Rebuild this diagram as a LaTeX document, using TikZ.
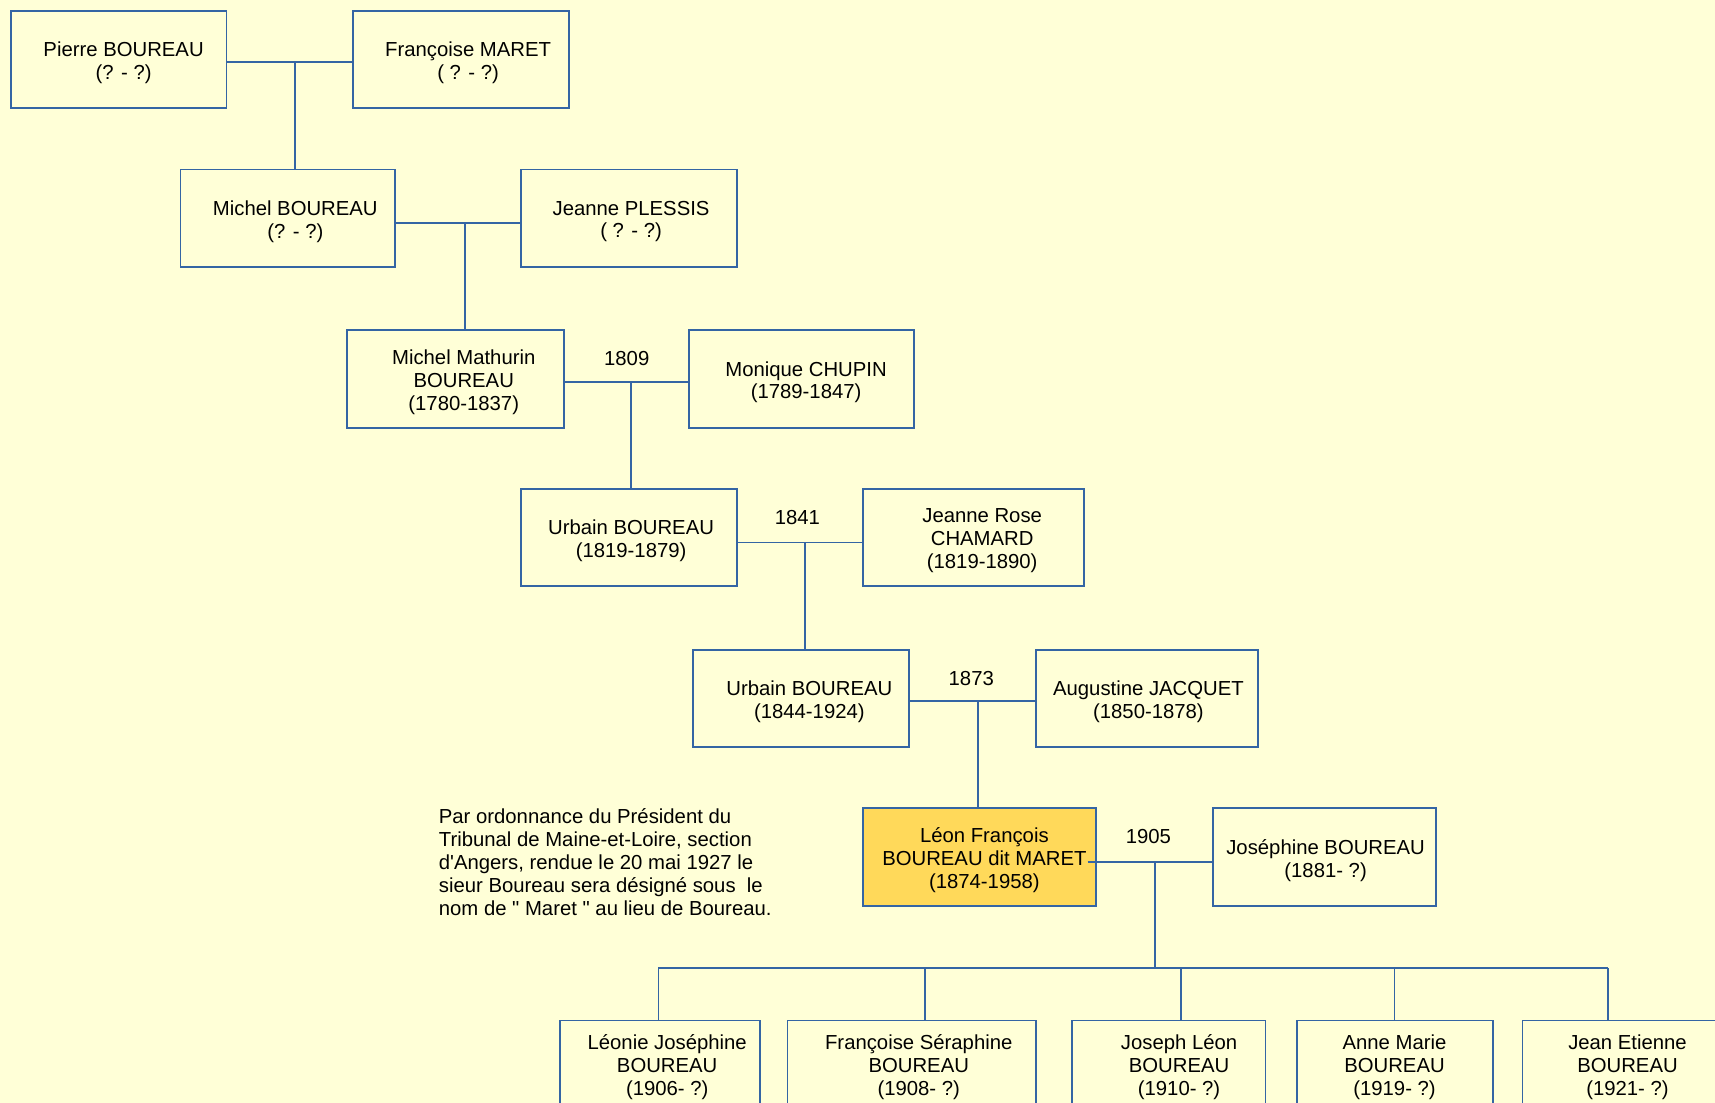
\documentclass[tikz,border=0pt]{standalone}
\usepackage{fontspec}
\setmainfont{Liberation Sans}
\newfontfamily\plainfont{Liberation Sans}
\definecolor{bg}{HTML}{FFFFD7}
\definecolor{bl}{HTML}{3465A4}
\definecolor{gold}{HTML}{FFD95A}
% #1 opts, #2 name, #3-#6 corners, #7 text centre x, #8 text
\newcommand\pbx[8][]{%
  \node[pbox,#1,minimum width={(#5-#3)*0.7113pt},minimum height={(#6-#4)*0.7113pt}] (#2) at ({(#3+#5)/2},{(#4+#6)/2}) {};
  \node[ptxt] (#2-t) at (#7,{(#4+#6)/2+3}) {#8};}
\begin{document}
\begin{tikzpicture}[x=0.025cm,y=-0.025cm,
  txt/.style={font=\plainfont\fontsize{13.2pt}{14.9pt}\selectfont, text=black},
  pbox/.style={draw=bl, line width=1.2pt, fill=bg, inner sep=0pt},
  ptxt/.style={txt, align=center, inner sep=0pt},
  hl/.style={fill=gold},
  link/.style={draw=bl, line width=1.2pt},
  yr/.style={txt, inner sep=0pt}]
\fill[bg] (0,0) rectangle (1568,1008);
\useasboundingbox (0,0) rectangle (1568,1008);
\clip (0,0) rectangle (1568,1008);

% generation 1
\pbx{pierre}{10}{10}{207}{99}{113}{Pierre BOUREAU\\(? - ?)}
\pbx{francoise}{323}{10}{520}{99}{428}{Françoise MARET\\( ? - ?)}
% generation 2
\pbx{michel}{165}{155}{361}{244}{270}{Michel BOUREAU\\(? - ?)}
\pbx{jeanne}{476}{155}{674}{244}{577}{Jeanne PLESSIS\\( ? - ?)}
% generation 3
\pbx{mm}{317}{302}{516}{391}{424}{Michel Mathurin\\BOUREAU\\(1780-1837)}
\pbx{monique}{630}{302}{836}{391}{737}{Monique CHUPIN\\(1789-1847)}
% generation 4
\pbx{urbainA}{476}{447}{674}{536}{577}{Urbain BOUREAU\\(1819-1879)}
\pbx{jrose}{789}{447}{991}{536}{898}{Jeanne Rose\\CHAMARD\\(1819-1890)}
% generation 5
\pbx{urbainB}{634}{594}{831}{683}{740}{Urbain BOUREAU\\(1844-1924)}
\pbx{augustine}{947}{594}{1150}{683}{1050}{Augustine JACQUET\\(1850-1878)}
% generation 6
\pbx[hl]{leon}{789}{739}{1002}{828}{900}{Léon François\\BOUREAU dit MARET\\(1874-1958)}
\pbx{josephine}{1109}{739}{1313}{828}{1212}{Joséphine BOUREAU\\(1881- ?)}
% children
\pbx{c1}{512}{933}{695}{1013}{610}{Léonie Joséphine\\BOUREAU\\(1906- ?)}
\pbx{c2}{720}{933}{947}{1013}{840}{Françoise Séraphine\\BOUREAU\\(1908- ?)}
\pbx{c3}{980}{933}{1157}{1013}{1078}{Joseph Léon\\BOUREAU\\(1910- ?)}
\pbx{c4}{1186}{933}{1365}{1013}{1275}{Anne Marie\\BOUREAU\\(1919- ?)}
\pbx{c5}{1392}{933}{1584}{1013}{1488}{Jean Etienne\\BOUREAU\\(1921- ?)}

% marriage years
\node[yr] (y1809) at (573,328) {1809};
\node[yr] (y1841) at (729,473) {1841};
\node[yr] (y1873) at (888,620) {1873};
\node[yr] (y1905) at (1050,765) {1905};

% note
\node[txt, anchor=north west, align=left, inner sep=0pt] (note) at (401,739)
 {Par ordonnance du Président du\\Tribunal de Maine-et-Loire, section\\d'Angers, rendue le 20 mai 1927 le\\sieur Boureau sera désigné sous~ le\\nom de " Maret " au lieu de Boureau.};

% junction points
\coordinate (m1) at (270,57);
\coordinate (m2) at (425,204);
\coordinate (m3) at (577,349);
\coordinate (m4) at (736,496);
\coordinate (m5) at (894,641);
\coordinate (m6) at (1056,788);
\coordinate (bus) at (1056,885);
\coordinate (d1) at (602,885);
\coordinate (d2) at (846,885);
\coordinate (d3) at (1080,885);
\coordinate (d4) at (1275,885);
\coordinate (d5) at (1470,885);

\draw[link] (pierre.east |- m1) -- (francoise.west |- m1);
\draw[link] (m1) -- (m1 |- michel.north);
\draw[link] (michel.east |- m2) -- (jeanne.west |- m2);
\draw[link] (m2) -- (m2 |- mm.north);
\draw[link] (mm.east |- m3) -- (monique.west |- m3);
\draw[link] (m3) -- (m3 |- urbainA.north);
\draw[link] (urbainA.east |- m4) -- (jrose.west |- m4);
\draw[link] (m4) -- (m4 |- urbainB.north);
\draw[link] (urbainB.east |- m5) -- (augustine.west |- m5);
\draw[link] (m5) -- (m5 |- leon.north);
\draw[link] ([xshift=-6]leon.east |- m6) -- (josephine.west |- m6);
\draw[link] (m6) -- (bus);
\draw[link] (d1) -- (d5);
\draw[link] (d1) -- (d1 |- c1.north);
\draw[link] (d2) -- (d2 |- c2.north);
\draw[link] (d3) -- (d3 |- c3.north);
\draw[link] (d4) -- (d4 |- c4.north);
\draw[link] (d5) -- (d5 |- c5.north);
\end{tikzpicture}
\end{document}
